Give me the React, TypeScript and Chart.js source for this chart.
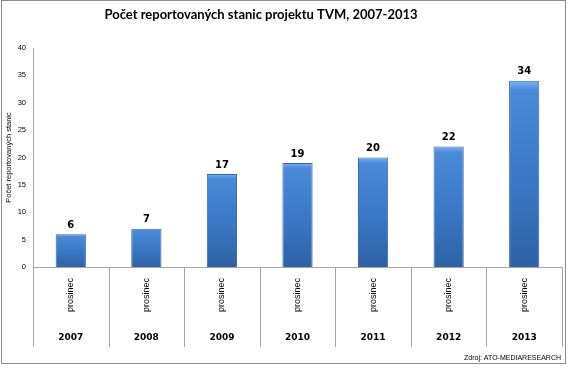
import React, { useEffect, useRef } from "react";
import { Chart, registerables } from "chart.js";

Chart.register(...registerables);

const years = ["2007", "2008", "2009", "2010", "2011", "2012", "2013"];
const months = ["prosinec", "prosinec", "prosinec", "prosinec", "prosinec", "prosinec", "prosinec"];
const stations = [6, 7, 17, 19, 20, 22, 34];
const titleText = "Počet reportovaných stanic projektu TVM, 2007-2013";
const yTitle = "Počet reportovaných stanic";
const sourceText = "Zdroj: ATO-MEDIARESEARCH";

const decorPlugin = {
  id: "decor",
  afterDraw(chart: any) {
    const { ctx } = chart;
    const xs = chart.scales.x;
    const ys = chart.scales.y;
    ctx.save();
    // title
    ctx.fillStyle = "#000";
    ctx.font = "bold 13px Lato";
    ctx.textAlign = "center";
    ctx.textBaseline = "middle";
    ctx.fillText(titleText, 261, 15);
    // category separators
    ctx.strokeStyle = "#a6a6a6";
    ctx.lineWidth = 1;
    const n = years.length;
    const w = (xs.right - xs.left) / n;
    for (let i = 0; i <= n; i++) {
      const x = Math.round(xs.left + i * w) + 0.5;
      ctx.beginPath();
      ctx.moveTo(x, ys.bottom);
      ctx.lineTo(x, ys.bottom + 80);
      ctx.stroke();
    }
    // value labels
    const meta = chart.getDatasetMeta(0);
    ctx.fillStyle = "#000";
    ctx.font = "bold 10px 'DejaVu Sans'";
    ctx.textAlign = "center";
    ctx.textBaseline = "middle";
    meta.data.forEach((el: any, i: number) => {
      ctx.fillText(String(stations[i]), el.x, el.y - 9);
    });
    // source
    ctx.font = "7px 'Liberation Sans'";
    ctx.textAlign = "right";
    ctx.fillText(sourceText, 561, 358);
    // outer border
    ctx.strokeStyle = "#8c8c8c";
    ctx.strokeRect(1.5, 0.5, 564, 363);
    ctx.restore();
  },
};

export default function App() {
  const ref = useRef<HTMLCanvasElement>(null);
  useEffect(() => {
    if (!ref.current) return;
    const chart = new Chart(ref.current, {
      type: "bar",
      data: {
        labels: months,
        datasets: [
          {
            data: stations,
            backgroundColor: (c: any) => {
              const chart = c.chart;
              const ys = chart.scales && chart.scales.y;
              if (!ys || !chart.chartArea || c.type !== "data") return "#3c7bcb";
              const top = ys.getPixelForValue(c.raw);
              const bot = ys.getPixelForValue(0);
              const g = chart.ctx.createLinearGradient(0, top, 0, bot);
              g.addColorStop(0, "#7ab2f0");
              g.addColorStop(0.05, "#4a8ad9");
              g.addColorStop(0.5, "#3b79c8");
              g.addColorStop(1, "#2d62a5");
              return g;
            },
            borderColor: "#3566a6",
            borderWidth: 1,
            categoryPercentage: 1,
            barPercentage: 0.4,
          },
        ],
      },
      options: {
        responsive: false,
        animation: false,
        layout: { padding: { top: 48, left: 0, right: 6, bottom: 21 } },
        plugins: {
          legend: { display: false },
          tooltip: { enabled: false },
          title: { display: false },
        },
        scales: {
          x: {
            position: "bottom",
            grid: { display: false, drawTicks: false },
            border: { display: true, color: "#a6a6a6" },
            ticks: {
              minRotation: 90,
              maxRotation: 90,
              padding: 11,
              color: "#000",
              font: { family: "Liberation Sans", size: 9 },
            },
            afterFit: (s: any) => {
              s.height = 58;
            },
          },
          x2: {
            type: "category",
            position: "bottom",
            labels: years,
            offset: true,
            grid: { display: false, drawTicks: false },
            border: { display: false },
            ticks: {
              maxRotation: 0,
              padding: 7,
              color: "#000",
              font: { family: "DejaVu Sans", size: 9, weight: "bold" },
            },
            afterFit: (s: any) => {
              s.height = 22;
            },
          },
          y: {
            min: 0,
            max: 40,
            grid: { display: false, drawTicks: false },
            border: { display: true, color: "#a6a6a6" },
            ticks: {
              stepSize: 5,
              padding: 7,
              color: "#000",
              font: { family: "Liberation Sans", size: 7.5 },
            },
            title: {
              display: true,
              text: yTitle,
              color: "#000",
              font: { family: "Liberation Sans", size: 7.5 },
              padding: { top: 4, bottom: 0 },
            },
            afterFit: (s: any) => {
              s.width = 33;
            },
          },
        },
      },
      plugins: [decorPlugin],
    });
    return () => chart.destroy();
  }, []);
  return (
    <div style={{ position: "absolute", left: 0, top: 0, width: 568, height: 368, background: "#fff" }}>
      <canvas ref={ref} width={568} height={368} style={{ display: "block" }} />
    </div>
  );
}
